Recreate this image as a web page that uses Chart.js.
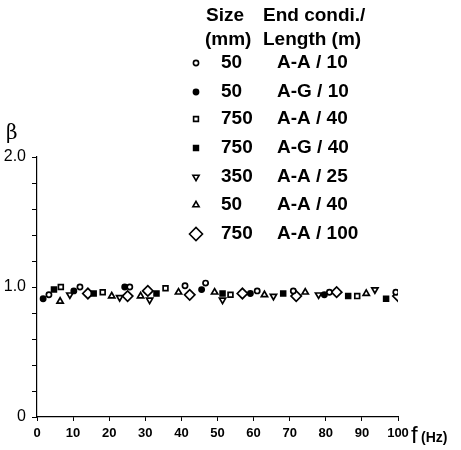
<!DOCTYPE html>
<html>
<head>
<meta charset="utf-8">
<script src="https://cdn.jsdelivr.net/npm/chart.js@4/dist/chart.umd.min.js"></script>
<style>
  html, body { margin: 0; padding: 0; background: #fff; }
  #wrap { position: relative; width: 461px; height: 450px; }
</style>
</head>
<body>
<div id="wrap"><canvas id="beta"></canvas></div>
<script>
// legend columns
const sizes = ['50', '50', '750', '750', '350', '50', '750']
const conditions = ['A-A / 10', 'A-G / 10', 'A-A / 40', 'A-G / 40', 'A-A / 25', 'A-A / 40', 'A-A / 100']

// frequency (Hz) and beta per series
const freqAA10 = [3.3, 11.9, 25.7, 41, 46.7, 61, 71, 81, 99.4]
const betaAA10 = [0.94, 1.00, 1.00, 1.01, 1.03, 0.97, 0.97, 0.96, 0.96]

const freqAG10 = [1.7, 10.2, 24.3, 45.6, 59.1, 79.6]
const betaAG10 = [0.91, 0.97, 1.00, 0.98, 0.95, 0.94]

const freq750AA40 = [6.6, 18.2, 35.6, 53.6, 88.7]
const beta750AA40 = [1.00, 0.96, 0.99, 0.94, 0.93]

const freq750AG40 = [4.7, 15.7, 33.1, 51.4, 68.2, 86.2, 96.7]
const beta750AG40 = [0.98, 0.95, 0.95, 0.95, 0.95, 0.93, 0.91]

const freq350AA25 = [9.1, 22.9, 31.2, 51.4, 65.5, 78, 93.6]
const beta350AA25 = [0.94, 0.92, 0.90, 0.90, 0.93, 0.94, 0.98]

const freq50AA40 = [6.4, 20.7, 28.7, 39.2, 49.2, 63, 74.3, 91.2]
const beta50AA40 = [0.89, 0.93, 0.93, 0.96, 0.96, 0.94, 0.96, 0.95]

const freq750AA100 = [14.1, 25.1, 30.7, 42.3, 56.9, 71.8, 83, 100]
const beta750AA100 = [0.95, 0.93, 0.97, 0.94, 0.95, 0.93, 0.96, 0.93]

const xTicks = [0, 10, 20, 30, 40, 50, 60, 70, 80, 90, 100]

const toPoints = (xs, ys) => xs.map((x, i) => ({ x: x, y: ys[i] }))

// marker looks, same order as the legend
const markers = [
  { pointStyle: 'circle', radius: 2.6, fill: '#fff', rotation: 0 },
  { pointStyle: 'circle', radius: 2.6, fill: '#000', rotation: 0 },
  { pointStyle: 'rect', radius: 3.4, fill: '#fff', rotation: 0 },
  { pointStyle: 'rect', radius: 3.4, fill: '#000', rotation: 0 },
  { pointStyle: 'triangle', radius: 3.6, fill: '#fff', rotation: 180 },
  { pointStyle: 'triangle', radius: 3.6, fill: '#fff', rotation: 0 },
  { pointStyle: 'rectRot', radius: 5.2, fill: '#fff', rotation: 0 }
]

const seriesData = [
  toPoints(freqAA10, betaAA10),
  toPoints(freqAG10, betaAG10),
  toPoints(freq750AA40, beta750AA40),
  toPoints(freq750AG40, beta750AG40),
  toPoints(freq350AA25, beta350AA25),
  toPoints(freq50AA40, beta50AA40),
  toPoints(freq750AA100, beta750AA100)
]

const datasets = seriesData.map((pts, i) => ({
  label: sizes[i] + ' ' + conditions[i],
  data: pts,
  pointStyle: markers[i].pointStyle,
  pointRadius: markers[i].radius,
  pointRotation: markers[i].rotation,
  pointBackgroundColor: markers[i].fill,
  pointBorderColor: '#000',
  pointBorderWidth: 1.7,
  showLine: false
}))

const FONT = "'Liberation Sans', Arial, sans-serif"

// legend block and axis titles drawn on top of the chart
const annotations = {
  id: 'annotations',
  afterDraw (chart) {
    const ctx = chart.ctx
    ctx.save()
    ctx.fillStyle = '#000'
    ctx.strokeStyle = '#000'
    ctx.textBaseline = 'middle'
    ctx.textAlign = 'left'
    ctx.font = "bold 19px " + FONT
    ctx.fillText('Size', 206, 16)
    ctx.fillText('End condi./', 263, 16)
    ctx.fillText('(mm)', 205, 40)
    ctx.fillText('Length (m)', 263, 40)

    const rowY = [63, 92, 119, 148, 177, 205, 234]
    sizes.forEach((s, i) => {
      const m = markers[i]
      ctx.fillStyle = m.fill
      ctx.lineWidth = 1.6
      Chart.helpers.drawPoint(ctx, {
        pointStyle: m.pointStyle,
        radius: m.pointStyle === 'rectRot' ? 6.5 : m.radius,
        rotation: m.rotation,
        borderWidth: 1.6
      }, 196, rowY[i])
      ctx.fillStyle = '#000'
      ctx.fillText(s, 221, rowY[i])
      ctx.fillText(conditions[i], 277, rowY[i])
    })

    // axis titles
    ctx.font = "20px 'DejaVu Serif', serif"
    ctx.fillText('\u03b2', 6, 134)
    ctx.font = "24px " + FONT
    ctx.fillText('f', 411, 436)
    ctx.font = "bold 14px " + FONT
    ctx.fillText('(Hz)', 421, 438)
    ctx.restore()
  }
}

new Chart(document.getElementById('beta'), {
  type: 'scatter',
  data: { datasets: datasets },
  options: {
    responsive: true,
    maintainAspectRatio: false,
    animation: false,
    layout: { padding: { left: 0, top: 157, right: 63, bottom: 0 } },
    plugins: {
      legend: { display: false },
      tooltip: { enabled: false }
    },
    scales: {
      x: {
        type: 'linear',
        min: 0,
        max: 100,
        afterFit: (scale) => { scale.height = 33 },
        afterBuildTicks: (scale) => { scale.ticks = xTicks.map(v => ({ value: v })) },
        border: { display: true, color: '#000', width: 1.2 },
        grid: { drawOnChartArea: false, color: '#000', tickLength: 4 },
        ticks: {
          color: '#000',
          padding: 5,
          maxRotation: 0,
          font: { family: FONT, size: 13, weight: 'bold' }
        }
      },
      y: {
        min: 0,
        max: 2,
        afterFit: (scale) => { scale.width = 37 },
        border: { display: true, color: '#000', width: 1.2 },
        grid: { drawOnChartArea: false, color: '#000', tickLength: 5 },
        ticks: {
          stepSize: 0.2,
          color: '#000',
          padding: 6,
          font: { family: FONT, size: 16 },
          callback: (v) => {
            if (Math.abs(v) < 1e-6) return '0'
            if (Math.abs(v - 1) < 1e-6) return '1.0'
            if (Math.abs(v - 2) < 1e-6) return '2.0'
            return ''
          }
        }
      }
    }
  },
  plugins: [annotations]
})
</script>
</body>
</html>
